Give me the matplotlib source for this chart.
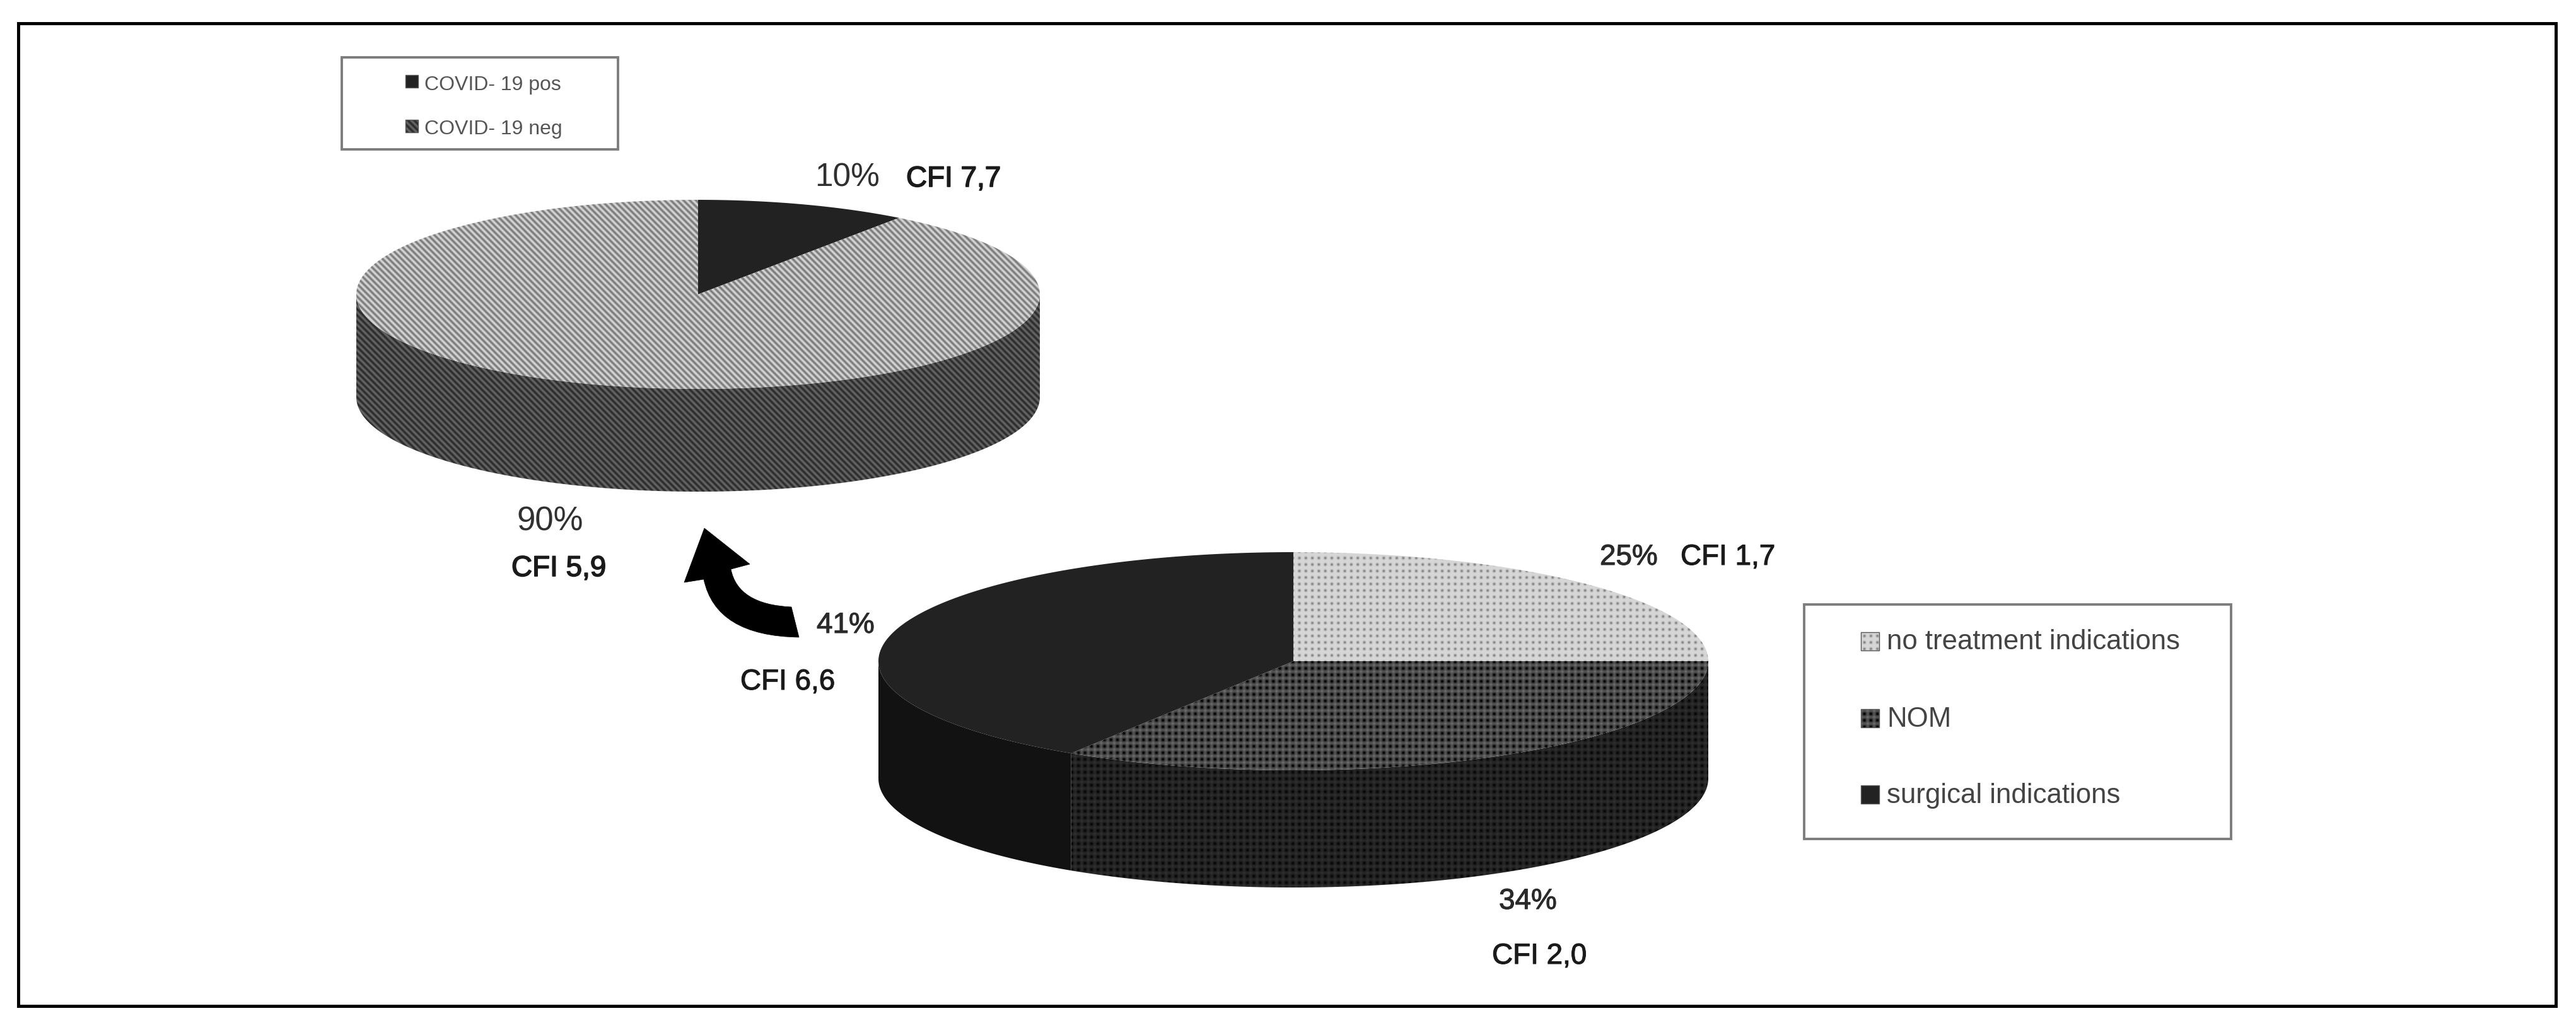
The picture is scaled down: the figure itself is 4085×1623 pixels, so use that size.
import numpy as np
import matplotlib
matplotlib.use("Agg")
import matplotlib.pyplot as plt
import matplotlib.patheffects as pe
from matplotlib.patches import PathPatch, Polygon, Rectangle
from matplotlib.path import Path

W, H = 4085, 1624

covid_labels = ["COVID- 19 pos", "COVID- 19 neg"]
covid_values = [10, 90]
covid_cfi = ["CFI 7,7", "CFI 5,9"]

treat_labels = ["no treatment indications", "NOM", "surgical indications"]
treat_values = [25, 34, 41]
treat_cfi = ["CFI 1,7", "CFI 2,0", "CFI 6,6"]

plt.rcParams["font.family"] = ["Liberation Sans", "DejaVu Sans"]

yy, xx = np.mgrid[0:H, 0:W]


def flat(v):
    return np.full((H, W), float(v))


def stripes(mean, amp):
    # fine diagonal weave, about 10 px period
    return mean + amp * np.cos(2 * np.pi * (xx - yy) / 10.0)


def dots(base, dark, light=0.0):
    cx = 0.5 + 0.5 * np.cos(2 * np.pi * xx / 10.3)
    cy = 0.5 + 0.5 * np.cos(2 * np.pi * yy / 10.3)
    grid = (1 - cx) ** 2 + (1 - cy) ** 2
    return base - dark * (cx * cy) ** 2 + light * (grid - 1)


COVID_TOP = [flat(34), stripes(168, 48)]
COVID_SIDE = [flat(20), stripes(72, 30)]
TREAT_TOP = [dots(214, 90), dots(82, 62, 26), flat(34)]
TREAT_SIDE = [flat(215), dots(38, 24, 10), flat(18)]

fig = plt.figure(figsize=(W / 100, H / 100), dpi=100, facecolor="white")
ax = fig.add_axes([0, 0, 1, 1])
ax.set_xlim(0, W)
ax.set_ylim(H, 0)
ax.axis("off")


def paint(points, tex):
    clip = Polygon(points, closed=True, transform=ax.transData, fc="none", ec="none")
    ax.add_patch(clip)
    im = ax.imshow(tex, cmap="gray", vmin=0, vmax=255, extent=(0, W, H, 0),
                   aspect="auto", interpolation="none", zorder=2)
    im.set_clip_path(clip)


def arc(cx, cy, rx, ry, a0, a1):
    t = np.radians(np.linspace(a0, a1, 240))
    return np.column_stack([cx + rx * np.sin(t), cy - ry * np.cos(t)])


def pie3d(values, cx, cy, rx, ry, depth, tops, sides):
    edges = np.concatenate([[0], np.cumsum(values)]) * 360.0 / sum(values)
    for i in range(len(values)):
        a0, a1 = edges[i], edges[i + 1]
        lo, hi = max(a0, 90), min(a1, 270)
        if hi > lo:
            upper = arc(cx, cy, rx, ry, lo, hi)
            lower = arc(cx, cy + depth, rx, ry, hi, lo)
            paint(np.vstack([upper, lower]), sides[i])
    for i in range(len(values)):
        paint(np.vstack([[[cx, cy]], arc(cx, cy, rx, ry, edges[i], edges[i + 1])]), tops[i])


def legend_box(x0, y0, x1, y1, lw):
    ax.add_patch(Rectangle((x0, y0), x1 - x0, y1 - y0, fc="white", ec="#7d7d7d",
                           lw=lw, zorder=1))


def swatch(x, y, w, h, tex):
    paint([(x, y), (x + w, y), (x + w, y + h), (x, y + h)], tex)
    ax.add_patch(Rectangle((x, y), w, h, fc="none", ec="#555555", lw=1.0, zorder=3))


def label(x, y, s, size, color="#303030", stroke=0.0):
    t = ax.text(x, y, s, fontsize=size, color=color, ha="left", va="baseline", zorder=4)
    if stroke:
        t.set_path_effects([pe.withStroke(linewidth=stroke, foreground=color)])


# outer frame
ax.add_patch(Rectangle((28.5, 37.5), 4024, 1559, fc="none", ec="black", lw=3.6, zorder=1))

pie3d(covid_values, 1107, 468, 542, 150, 163, COVID_TOP, COVID_SIDE)
pie3d(treat_values, 2051, 1050, 658, 173, 186, TREAT_TOP, TREAT_SIDE)

# curved arrow between the two pies
arrow_verts = [(1117, 839), (1189, 896), (1159, 904), (1170, 960), (1255, 964),
               (1267, 1012), (1135, 1010), (1116, 920), (1085, 925), (1117, 839)]
arrow_codes = [Path.MOVETO, Path.LINETO, Path.LINETO, Path.CURVE3, Path.CURVE3,
               Path.LINETO, Path.CURVE3, Path.CURVE3, Path.LINETO, Path.CLOSEPOLY]
ax.add_patch(PathPatch(Path(arrow_verts, arrow_codes), fc="black", ec="black", lw=0.5, zorder=3))

# COVID legend
legend_box(542, 92, 980, 238, 2.8)
swatch(643, 120, 20, 20, COVID_TOP[0])
swatch(643, 191, 20, 20, COVID_SIDE[1])
label(673, 143, covid_labels[0], 23, "#555555")
label(673, 213, covid_labels[1], 23, "#555555")

# treatment legend
legend_box(2861, 960, 3538, 1332, 2.8)
swatch(2951, 1004, 29, 29, TREAT_TOP[0])
swatch(2951, 1126, 29, 29, TREAT_TOP[1])
swatch(2951, 1247, 29, 29, TREAT_TOP[2])
label(2992, 1030, treat_labels[0], 31.5, "#444444")
label(2992, 1153, treat_labels[1], 31.5, "#444444")
label(2992, 1274, treat_labels[2], 31.5, "#444444")

# percentages and CFI values
label(1292, 295, f"{covid_values[0]}%", 37)
label(1437, 297, covid_cfi[0], 33, "#1a1a1a", 1.2)
label(820, 842, f"{covid_values[1]}%", 38)
label(811, 915, covid_cfi[1], 33, "#1a1a1a", 1.2)

label(2537, 897, f"{treat_values[0]}%", 33, "#2a2a2a", 0.8)
label(2665, 897, treat_cfi[0], 33, "#1a1a1a", 0.8)
label(2377, 1443, f"{treat_values[1]}%", 33, "#2a2a2a", 0.8)
label(2366, 1530, treat_cfi[1], 33, "#1a1a1a", 0.8)
label(1295, 1005, f"{treat_values[2]}%", 33, "#2a2a2a", 0.8)
label(1174, 1095, treat_cfi[2], 33, "#1a1a1a", 0.8)

ax.set_xlim(0, W)
ax.set_ylim(H, 0)
fig.savefig("out.png", dpi=100, facecolor="white")
